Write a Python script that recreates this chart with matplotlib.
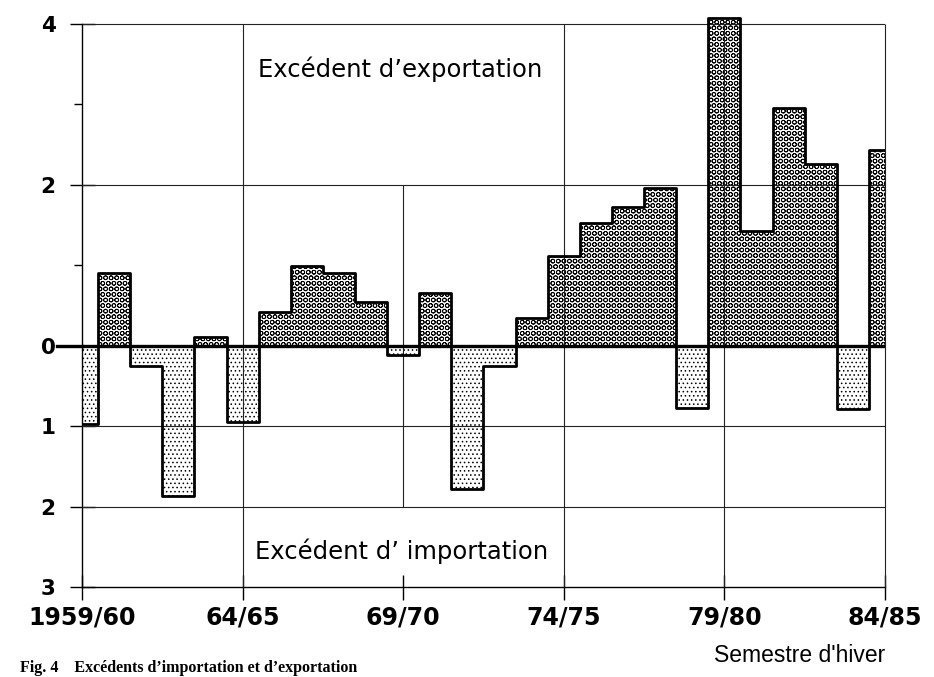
import matplotlib
matplotlib.use('Agg')
import matplotlib.pyplot as plt
import numpy as np

# winter semesters 1959/60 .. 84/85, balance (export > 0, import < 0)
years = np.arange(26)
balance = [-0.97, 0.90, -0.25, -1.87, 0.11, -0.95, 0.42, 0.99, 0.91, 0.54,
           -0.11, 0.65, -1.78, -0.25, 0.34, 1.12, 1.52, 1.72, 1.96, -0.77,
           4.07, 1.43, 2.95, 2.26, -0.79, 2.43]
xtick_pos = [0, 5, 10, 15, 20, 25]
xtick_labels = ['1959/60', '64/65', '69/70', '74/75', '79/80', '84/85']
ytick_pos = [4, 2, 0, -1, -2, -3]
ytick_labels = ['4', '2', '0', '1', '2', '3']
yminor_pos = [3, 1]

balance = np.array(balance)
plt.rcParams['hatch.linewidth'] = 0.6

fig = plt.figure(figsize=(9.34, 6.77), dpi=100)
ax = fig.add_axes([82 / 934, 1 - 587 / 677, (885 - 82) / 934, (587 - 16) / 677])

exp = balance > 0
ax.bar(years[exp], balance[exp], width=1.0, color='white', edgecolor='black',
       linewidth=0, hatch='OOO', zorder=1)
ax.bar(years[~exp], balance[~exp], width=1.0, color='white', edgecolor='black',
       linewidth=0, hatch='....', zorder=1)

# outline of the bars
ax.step(years, balance, where='mid', color='black', lw=2.0, zorder=4)

# grid
lc = '#222222'
ax.hlines([4, 2, -1, -2], 0, 25, color=lc, lw=0.8, zorder=3)
ax.vlines([5, 15, 20, 25], -3, 4, color=lc, lw=0.8, zorder=3, clip_on=False)
ax.vlines([10], -2, 2, color=lc, lw=0.8, zorder=3)
ax.axhline(0, color='black', lw=2.4, zorder=5)
ax.plot([-0.78, 0], [0, 0], color='black', lw=2.4, clip_on=False, zorder=5)

ax.set_xlim(0, 25)
ax.set_ylim(-3, 4.1)
for s in ['top', 'right']:
    ax.spines[s].set_visible(False)
ax.spines['left'].set_bounds(-3, 4)
ax.spines['left'].set_linewidth(1.0)
ax.spines['bottom'].set_linewidth(1.0)

ax.set_xticks(xtick_pos)
ax.set_xticklabels(xtick_labels, fontsize=17, fontweight='bold')
ax.set_yticks(ytick_pos)
ax.set_yticklabels(ytick_labels, fontsize=15.5, fontweight='bold')
ax.set_yticks(yminor_pos, minor=True)
ax.tick_params(axis='both', which='major', direction='inout', length=18, width=1.0,
               color='black')
ax.tick_params(axis='y', which='major', pad=10)
ax.tick_params(axis='x', which='major', pad=4)
ax.tick_params(axis='y', which='minor', direction='out', length=6, width=1.0)

ax.text(9.9, 3.44, 'Excédent d\u2019exportation', fontsize=17.5, ha='center', va='center')
ax.text(9.95, -2.55, 'Excédent d\u2019 importation', fontsize=17.5, ha='center', va='center')

fig.text(885 / 934, 1 - 655 / 677, "Semestre d'hiver", fontsize=16.5, ha='right', va='center',
         family='Liberation Sans')
fig.text(20 / 934, 1 - 668 / 677, 'Fig. 4    Excédents d\u2019importation et d\u2019exportation',
         fontsize=11.5, fontweight='bold', family='Liberation Serif', ha='left', va='center')

plt.savefig('out.png', dpi=100)
